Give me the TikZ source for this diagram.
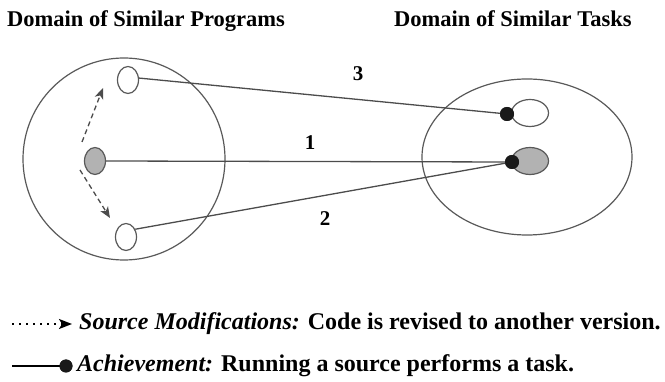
\documentclass[tikz,border=0pt]{standalone}
\usepackage{fontspec}
\setmainfont{Liberation Serif}
\usetikzlibrary{shapes.geometric,arrows.meta}
\begin{document}
\begin{tikzpicture}[x=1pt,y=-1pt,
  dom/.style={draw=black!65, line width=1.2pt, ellipse, inner sep=0pt},
  prog/.style={draw=black!65, line width=1.2pt, ellipse, inner sep=0pt, minimum width=21pt, minimum height=27pt},
  task/.style={draw=black!65, line width=1.2pt, ellipse, inner sep=0pt, minimum width=37pt, minimum height=27pt},
  dot/.style={circle, fill=black!90, inner sep=0pt, minimum size=14pt},
  conn/.style={draw=black!70, line width=1.3pt},
  modarrow/.style={draw=black!70, line width=1.3pt, dash pattern=on 5pt off 3.5pt, -{Stealth[length=11pt,width=9pt,inset=3pt]}},
  title/.style={font=\fontsize{22.5}{26}\selectfont\bfseries, anchor=base west, inner sep=0pt},
  num/.style={font=\fontsize{21}{24}\selectfont\bfseries, inner sep=0pt},
  legend/.style={font=\fontsize{24}{28}\selectfont\bfseries, anchor=west, inner sep=0pt}
]
\useasboundingbox (0,0) rectangle (665,382);
\node[title] (t1) at (7,27) {Domain of Similar Programs};
\node[title] (t2) at (394,27) {Domain of Similar Tasks};

\node[dom, minimum width=202pt, minimum height=202pt] (L) at (124,159) {};
\node[dom, minimum width=210pt, minimum height=156pt] (R) at (527,157) {};

\node[prog] (pa) at (128,80) {};
\node[prog, fill=black!30] (p0) at (95,161) {};
\node[prog] (pb) at (126,237) {};

\node[task] (ta) at (530,113) {};
\node[task, fill=black!30] (t0) at (530,161) {};

\coordinate (ma) at (82,142);
\coordinate (mae) at (103,88);
\coordinate (mb) at (80,170);
\coordinate (mbe) at (110,218);
\draw[modarrow] (ma) -- (mae);
\draw[modarrow] (mb) -- (mbe);

\node[dot] (da) at (507,114) {};
\node[dot] (d0) at (512,162) {};

\draw[conn] (pa.10) -- (da.center);
\draw[conn] (p0.east) -- (d0.center);
\draw[conn] (pb.40) -- (d0.center);
\node[dot] at (da) {};
\node[dot] at (d0) {};

\node[num] (n3) at (358,74) {3};
\node[num] (n1) at (310,143) {1};
\node[num] (n2) at (325,219) {2};

\coordinate (l1s) at (12,324);
\coordinate (l1e) at (72,324);
\draw[draw=black, line width=1.8pt, dash pattern=on 2pt off 5pt, -{Stealth[length=13pt,width=10pt,inset=3pt]}] (l1s) -- (l1e);
\node[legend] (lg1) at (79,324) {\itshape Source Modifications:\/ \upshape Code is revised to another version.};

\coordinate (l2s) at (12,366);
\node[dot, minimum size=13pt] (l2d) at (66,366) {};
\draw[draw=black, line width=1.5pt] (l2s) -- (l2d.center);
\node[dot, minimum size=13pt] at (l2d) {};
\node[legend] (lg2) at (77,366) {\itshape Achievement:\/ \upshape Running a source performs a task.};
\end{tikzpicture}
\end{document}
